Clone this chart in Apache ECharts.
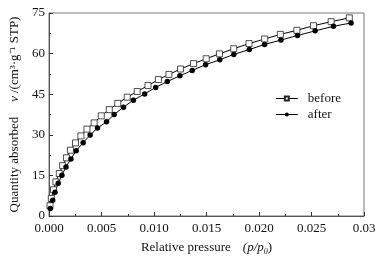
<!DOCTYPE html>
<html>
<head>
<meta charset="utf-8">
<script src="https://cdn.jsdelivr.net/npm/echarts@6/dist/echarts.min.js"></script>
<style>
    html, body { margin: 0; padding: 0; background: #fff; }
    #chart { width: 382px; height: 261px; }
</style>
</head>
<body>
<div id="chart"></div>
<script>
    // relative pressure (p/p0) and quantity absorbed
    var beforeX = [0.0001, 0.00022, 0.00043, 0.00066, 0.00098, 0.0013, 0.00166, 0.00204, 0.00252, 0.00304,
        0.00361, 0.0043, 0.00498, 0.00574, 0.00655, 0.00745, 0.0084, 0.00943, 0.01042, 0.01142,
        0.01253, 0.01377, 0.01497, 0.01623, 0.01759, 0.01905, 0.02054, 0.02203, 0.02361, 0.02519,
        0.02687, 0.0286];
    var beforeY = [3.8, 6.5, 9.7, 12.6, 15.7, 18.6, 21.5, 24.3, 27.0, 29.6,
        32.1, 34.4, 37.0, 39.3, 41.6, 43.9, 46.0, 48.2, 50.4, 52.3,
        54.3, 56.3, 58.1, 59.9, 61.8, 63.7, 65.4, 67.1, 68.6, 70.3,
        71.8, 73.2];
    var afterX = [0.00012, 0.00035, 0.00057, 0.00088, 0.00123, 0.00162, 0.00209, 0.00259, 0.00325, 0.00392,
        0.00462, 0.00548, 0.0062, 0.00709, 0.00804, 0.00911, 0.01016, 0.01127, 0.01247, 0.01364,
        0.01491, 0.01626, 0.0176, 0.01908, 0.02053, 0.02209, 0.02367, 0.02535, 0.02709, 0.02877];
    var afterY = [2.8, 5.8, 8.8, 12.1, 15.1, 18.1, 21.1, 24.1, 27.1, 29.9,
        32.5, 34.8, 37.5, 40.2, 42.8, 45.1, 47.5, 49.7, 51.8, 53.8,
        55.9, 57.7, 59.7, 61.5, 63.4, 65.0, 66.7, 68.4, 70.1, 71.3];
    var seriesNames = ['before', 'after'];

    function pairs(xs, ys) {
        return xs.map(function (x, i) { return [x, ys[i]]; });
    }

    var font = '"Liberation Serif", "Times New Roman", serif';
    var chart = echarts.init(document.getElementById('chart'));
    var option = {
        animation: false,
        textStyle: {fontFamily: font},
        grid: {
            left: 48, right: 18, top: 13, bottom: 40,
            show: true, borderColor: '#777', borderWidth: 1
        },
        legend: {
            data: seriesNames,
            orient: 'vertical',
            right: 36, top: 87,
            itemWidth: 22, itemHeight: 5, itemGap: 3,
            lineStyle: {width: 1},
            textStyle: {fontFamily: font, fontSize: 13, color: '#111', padding: [0, 0, 0, 5]}
        },
        xAxis: {
            type: 'value',
            min: 0, max: 0.03, interval: 0.005,
            name: '{n|Relative pressure}    {i|(p/p}{s|0}{n|)}',
            nameLocation: 'middle', nameGap: 24,
            nameTextStyle: {
                rich: {
                    n: {fontFamily: font, fontSize: 13, color: '#111'},
                    i: {fontFamily: font, fontSize: 13, fontStyle: 'italic', color: '#111'},
                    s: {fontFamily: font, fontSize: 8, fontStyle: 'italic', color: '#111', padding: [8, 0, 0, 0]}
                }
            },
            axisLine: {lineStyle: {color: '#555'}},
            axisTick: {inside: true, length: 4, lineStyle: {color: '#333'}},
            minorTick: {show: true, splitNumber: 2, length: 2, lineStyle: {color: '#333'}},
            splitLine: {show: false},
            axisLabel: {
                fontFamily: font, fontSize: 13, color: '#111', margin: 6,
                formatter: function (v) { return v === 0.03 ? '0.03' : v.toFixed(3); }
            }
        },
        yAxis: {
            type: 'value',
            min: 0, max: 75, interval: 15,
            name: '{n|Quantity absorbed}     {i|v} {n|/(cm³·g⁻¹ STP)}',
            nameLocation: 'middle', nameGap: 28, nameRotate: 90,
            nameTextStyle: {
                rich: {
                    n: {fontFamily: font, fontSize: 13, color: '#111'},
                    i: {fontFamily: font, fontSize: 13, fontStyle: 'italic', color: '#111'}
                }
            },
            axisLine: {lineStyle: {color: '#555'}},
            axisTick: {inside: true, length: 4, lineStyle: {color: '#333'}},
            minorTick: {show: true, splitNumber: 2, length: 2, lineStyle: {color: '#333'}},
            splitLine: {show: false},
            axisLabel: {fontFamily: font, fontSize: 13, color: '#111', margin: 4}
        },
        series: [
            {
                name: seriesNames[0],
                type: 'line',
                data: pairs(beforeX, beforeY),
                symbol: 'rect', symbolSize: 6,
                lineStyle: {color: '#000', width: 1},
                itemStyle: {color: '#fff', borderColor: '#222', borderWidth: 0.8}
            },
            {
                name: seriesNames[1],
                type: 'line',
                data: pairs(afterX, afterY),
                symbol: 'circle', symbolSize: 5.5,
                lineStyle: {color: '#000', width: 1},
                itemStyle: {color: '#000', borderColor: '#000', borderWidth: 0}
            }
        ]
    };
    chart.setOption(option);
</script>
</body>
</html>
